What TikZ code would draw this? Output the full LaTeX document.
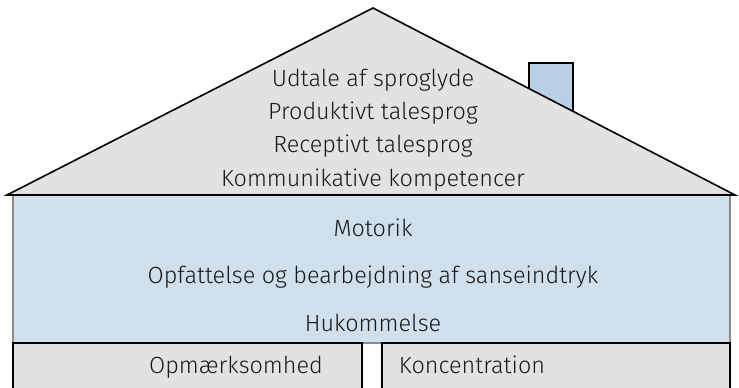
\documentclass[tikz,border=0pt]{standalone}
\usepackage{fontspec}
\setmainfont{Fira Sans}[UprightFont=* Light]
\definecolor{roofgray}{HTML}{E2E2E4}
\definecolor{wallblue}{HTML}{CFDFEB}
\definecolor{chimblue}{HTML}{B9CFE3}
\definecolor{edgegray}{HTML}{8A8A8A}
\begin{document}
\begin{tikzpicture}[x=1pt,y=-1pt,
  blk/.style={line width=1.6pt, draw=black},
  lbl/.style={font=\fontsize{23.4}{28}\selectfont, text=black!90, inner sep=0pt, anchor=base}]
\useasboundingbox (0,0) rectangle (739,388);
% chimney
\draw[blk, fill=chimblue] (529,120) -- (529,63) -- (573,63) -- (573,120);
% wall
\fill[wallblue] (13,195) rectangle (730,343);
\draw[edgegray, line width=1.4pt] (13,195) -- (13,343) -- (730,343) -- (730,195);
% roof
\draw[blk, fill=roofgray, line join=miter] (7,195) -- (373,8) -- (735,195) -- cycle;
% bottom boxes
\draw[blk, fill=roofgray] (13,390) -- (13,343) -- (362,343) -- (362,390);
\draw[blk, fill=roofgray] (382,390) -- (382,343) -- (730,343) -- (730,390);
% texts
\node[lbl] (t1) at (373,86) {Udtale af sproglyde};
\node[lbl] (t2) at (373,119) {Produktivt talesprog};
\node[lbl] (t3) at (373,152) {Receptivt talesprog};
\node[lbl] (t4) at (373,186) {Kommunikative kompetencer};
\node[lbl] (m1) at (373,236) {Motorik};
\node[lbl] (m2) at (373,283) {Opfattelse og bearbejdning af sanseindtryk};
\node[lbl] (m3) at (373,331) {Hukommelse};
\node[lbl] (b1) at (236,373) {Opmærksomhed};
\node[lbl] (b2) at (472,373) {Koncentration};
\end{tikzpicture}
\end{document}
